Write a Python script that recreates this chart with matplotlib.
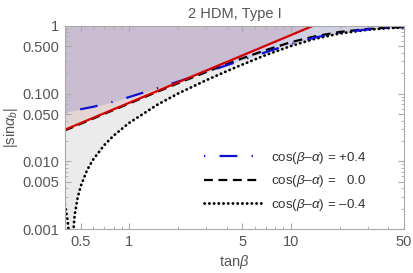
import matplotlib
matplotlib.use("Agg")
import matplotlib.pyplot as plt
from matplotlib.ticker import FixedLocator, FixedFormatter, LogLocator, NullFormatter

plt.rcParams['font.family'] = ['Liberation Sans', 'DejaVu Sans']
plt.rcParams['mathtext.fontset'] = 'custom'
plt.rcParams['mathtext.rm'] = 'Liberation Sans'
plt.rcParams['mathtext.it'] = 'Liberation Sans:italic'

tanb_red = [0.4, 13.66]
sina_red = [0.0293, 1.0]

tanb_plus = [0.4, 0.6, 0.8, 1, 1.5, 2, 3, 4, 5, 7, 10, 14, 20, 30, 40, 50]
sina_plus = [0.053, 0.064, 0.076, 0.089, 0.121, 0.150, 0.208, 0.262, 0.314,
             0.41, 0.54, 0.672, 0.793, 0.89, 0.937, 0.96]

tanb_zero = [0.4, 0.7, 1, 1.5, 2, 3, 4, 5, 7, 10, 14, 20, 30, 40, 50]
sina_zero = [0.0286, 0.0501, 0.0715, 0.107, 0.142, 0.209, 0.272, 0.332,
             0.44, 0.575, 0.70, 0.815, 0.903, 0.942, 0.962]

tanb_minus = [0.4, 0.415, 0.425, 0.436, 0.445, 0.46, 0.48, 0.5, 0.55, 0.6, 0.7,
              0.8, 1, 1.5, 2, 3, 4, 5, 7, 10, 14, 20, 30, 40, 50]
sina_minus = [0.0023, 0.0014, 0.0008, 0.0001, 0.0006, 0.0016, 0.0029, 0.0042,
              0.0075, 0.0107, 0.0173, 0.0239, 0.037, 0.069, 0.100, 0.158,
              0.214, 0.268, 0.372, 0.505, 0.643, 0.772, 0.878, 0.928, 0.954]

labels = ["cos($\\beta$\u2013$\\alpha$) = +0.4",
          "cos($\\beta$\u2013$\\alpha$) =   0.0",
          "cos($\\beta$\u2013$\\alpha$) = \u20130.4"]

ytick_vals = [0.001, 0.005, 0.01, 0.05, 0.1, 0.5, 1]
ytick_txt = ["0.001", "0.005", "0.010", "0.050", "0.100", "0.500", "1"]
xtick_vals = [0.5, 1, 5, 10, 50]
xtick_txt = ["0.5", "1", "5", "10", "50"]

fig = plt.figure(figsize=(4.13, 2.73), dpi=100)
ax = fig.add_axes([0.157, 0.161, 0.821, 0.744])
ax.set_xscale('log')
ax.set_yscale('log')

# shaded regions
ax.fill_between(tanb_minus, sina_minus, 1, color='#ebebeb', lw=0)
ax.fill_between(tanb_red, sina_red, 1, color='#c87878', alpha=0.2, lw=0)
ax.fill_between(tanb_plus, sina_plus, 1, color='#6464c8', alpha=0.2, lw=0)

ax.plot(tanb_minus, sina_minus, color='black', lw=2, linestyle=(0, (0.1, 1.6)),
        dash_capstyle='round', label=labels[2])
ax.plot(tanb_zero, sina_zero, color='black', lw=1.6, linestyle=(0, (4, 2.5)),
        label=labels[1])
ax.plot(tanb_plus, sina_plus, color='#1010d0', lw=1.6,
        linestyle=(0, (0.6, 6.4, 8, 6.4)), label=labels[0])
ax.plot(tanb_red, sina_red, color='#d40000', lw=1.6)

ax.set_xlim(0.4, 50)
ax.set_ylim(0.001, 1)

ax.yaxis.set_major_locator(FixedLocator(ytick_vals))
ax.yaxis.set_major_formatter(FixedFormatter(ytick_txt))
ax.xaxis.set_major_locator(FixedLocator(xtick_vals))
ax.xaxis.set_major_formatter(FixedFormatter(xtick_txt))
ax.xaxis.set_minor_locator(LogLocator(subs=range(1, 10)))
ax.yaxis.set_minor_locator(LogLocator(subs=range(1, 10)))
ax.xaxis.set_minor_formatter(NullFormatter())
ax.yaxis.set_minor_formatter(NullFormatter())

ax.tick_params(which='both', direction='in', top=True, right=True,
               color='#aaaaaa', labelcolor='#555555', labelsize=10.5)
ax.tick_params(which='major', length=4, width=0.8, pad=4)
ax.tick_params(which='minor', length=2, width=0.6)
for sp in ax.spines.values():
    sp.set_color('#aaaaaa')
    sp.set_linewidth(0.8)

ax.set_title("2 HDM, Type I", color='#555555', fontsize=10.5, pad=6)
ax.set_xlabel("tan$\\beta$", color='#555555', fontsize=10.5, labelpad=3)
ax.set_ylabel("|sin$\\alpha_b$|", color='#555555', fontsize=10.5, labelpad=2)

h, l = ax.get_legend_handles_labels()
leg = ax.legend(h[::-1], l[::-1], loc='center left', bbox_to_anchor=(0.41, 0.235),
                frameon=False, fontsize=9.6, handlelength=4.3, handletextpad=0.7,
                labelspacing=0.55, borderpad=0, borderaxespad=0)
for t in leg.get_texts():
    t.set_color('#333333')

fig.savefig("out.png", dpi=100)
